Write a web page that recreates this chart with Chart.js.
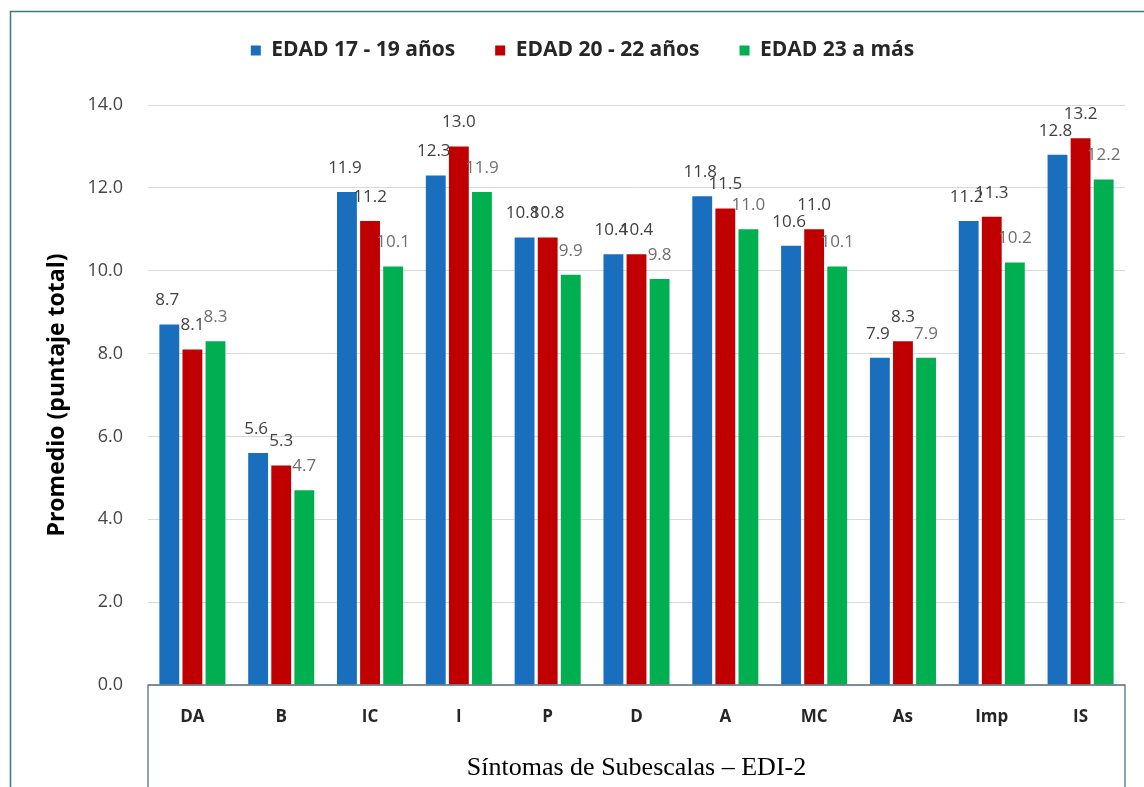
<!DOCTYPE html>
<html>
<head>
<meta charset="utf-8">
<script src="https://cdn.jsdelivr.net/npm/chart.js@4"></script>
<style>
  html, body { margin: 0; padding: 0; background: #ffffff; }
  #wrap { width: 1144px; height: 787px; position: relative; }
</style>
</head>
<body>
<div id="wrap"><canvas id="c" width="1144" height="787"></canvas></div>
<script>
// Subescalas del EDI-2
const categories = ['DA', 'B', 'IC', 'I', 'P', 'D', 'A', 'MC', 'As', 'Imp', 'IS'];
const seriesNames = ['EDAD 17 - 19 años', 'EDAD 20 - 22 años', 'EDAD 23 a más'];
const edad17a19 = [8.7, 5.6, 11.9, 12.3, 10.8, 10.4, 11.8, 10.6, 7.9, 11.2, 12.8];
const edad20a22 = [8.1, 5.3, 11.2, 13.0, 10.8, 10.4, 11.5, 11.0, 8.3, 11.3, 13.2];
const edad23mas = [8.3, 4.7, 10.1, 11.9, 9.9, 9.8, 11.0, 10.1, 7.9, 10.2, 12.2];
const yTicks = [0, 2, 4, 6, 8, 10, 12, 14];

const colors = ['#1a6ebe', '#c00000', '#00b050'];
const labelColors = ['#404040', '#404040', '#6f6f6f'];

// Fixed legend band height so the plot starts at the same place each time,
// and the legend row nudged a little to the right
const legendBand = {
  id: 'legendBand',
  beforeInit(chart) {
    const fit = chart.legend.fit;
    chart.legend.fit = function () {
      fit.bind(chart.legend)();
      this.height = 105;
    };
  },
  afterLayout(chart) {
    chart.legend.left += 20;
    chart.legend.right += 20;
  }
};

// Value labels above each bar
const valueLabels = {
  id: 'valueLabels',
  afterDatasetsDraw(chart) {
    const ctx = chart.ctx;
    ctx.save();
    ctx.font = '17px "Open Sans", sans-serif';
    ctx.textAlign = 'center';
    ctx.textBaseline = 'middle';
    chart.data.datasets.forEach((ds, i) => {
      const meta = chart.getDatasetMeta(i);
      ctx.fillStyle = labelColors[i];
      meta.data.forEach((bar, j) => {
        const dx = i === 0 ? -2 : 0;
        ctx.fillText(ds.data[j].toFixed(1), bar.x + dx, bar.y - 24);
      });
    });
    ctx.restore();
  }
};

// Outer frame and the box around the category axis
const frames = {
  id: 'frames',
  afterDraw(chart) {
    const ctx = chart.ctx;
    const a = chart.chartArea;
    ctx.save();
    ctx.strokeStyle = '#3f7686';
    ctx.lineWidth = 1.5;
    ctx.beginPath();
    ctx.moveTo(10.5, 787);
    ctx.lineTo(10.5, 11.5);
    ctx.lineTo(1144, 11.5);
    ctx.stroke();
    ctx.strokeStyle = '#56707c';
    ctx.lineWidth = 1.3;
    ctx.beginPath();
    ctx.moveTo(a.left, 787);
    ctx.lineTo(a.left, a.bottom);
    ctx.lineTo(a.right, a.bottom);
    ctx.lineTo(a.right, 787);
    ctx.stroke();
    ctx.restore();
  }
};

new Chart(document.getElementById('c'), {
  type: 'bar',
  data: {
    labels: categories,
    datasets: [
      { label: seriesNames[0], data: edad17a19, backgroundColor: colors[0] },
      { label: seriesNames[1], data: edad20a22, backgroundColor: colors[1] },
      { label: seriesNames[2], data: edad23mas, backgroundColor: colors[2] }
    ]
  },
  options: {
    responsive: false,
    animation: false,
    devicePixelRatio: 1,
    layout: { padding: { left: 0, right: 19, top: 0, bottom: 0 } },
    datasets: { bar: { barPercentage: 0.86, categoryPercentage: 0.78 } },
    plugins: {
      legend: {
        position: 'top',
        labels: {
          boxWidth: 10,
          boxHeight: 10,
          padding: 40,
          color: '#262626',
          font: { family: '"Open Sans", sans-serif', size: 21, weight: 'bold' }
        }
      },
      tooltip: { enabled: false }
    },
    scales: {
      x: {
        grid: { display: false, drawTicks: false },
        border: { display: false },
        ticks: {
          color: '#262626',
          padding: 22,
          font: { family: '"Open Sans", sans-serif', size: 17, weight: 'bold' }
        },
        title: {
          display: true,
          text: 'Síntomas de Subescalas – EDI-2',
          color: '#000000',
          font: { family: '"Liberation Serif", serif', size: 26 },
          padding: { top: 0, bottom: 3 }
        },
        afterFit(scale) { scale.height = 102; }
      },
      y: {
        min: 0,
        max: 14,
        afterBuildTicks(scale) { scale.ticks = yTicks.map(v => ({ value: v })); },
        grid: { color: '#d9d9d9', lineWidth: 1, drawTicks: false },
        border: { display: false },
        ticks: {
          color: '#454545',
          padding: 25,
          font: { family: '"Open Sans", sans-serif', size: 18 },
          callback: v => Number(v).toFixed(1)
        },
        title: {
          display: true,
          text: 'Promedio (puntaje total)',
          color: '#000000',
          font: { family: '"Open Sans", sans-serif', size: 23, weight: 'bold' },
          padding: { top: 44, bottom: 0 }
        },
        afterFit(scale) { scale.width = 148; }
      }
    }
  },
  plugins: [legendBand, valueLabels, frames]
});
</script>
</body>
</html>
